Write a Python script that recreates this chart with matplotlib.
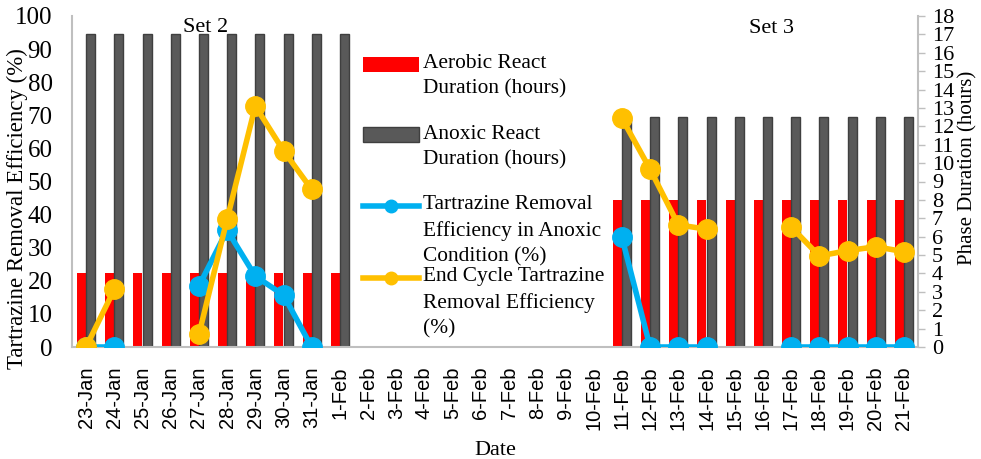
import numpy as np
import matplotlib
matplotlib.use('Agg')
import matplotlib.pyplot as plt
from matplotlib.legend_handler import HandlerPatch, HandlerLine2D
from matplotlib.lines import Line2D
from matplotlib.patches import Patch

nan = np.nan
dates = ['23-Jan', '24-Jan', '25-Jan', '26-Jan', '27-Jan', '28-Jan', '29-Jan', '30-Jan',
         '31-Jan', '1-Feb', '2-Feb', '3-Feb', '4-Feb', '5-Feb', '6-Feb', '7-Feb', '8-Feb',
         '9-Feb', '10-Feb', '11-Feb', '12-Feb', '13-Feb', '14-Feb', '15-Feb', '16-Feb',
         '17-Feb', '18-Feb', '19-Feb', '20-Feb', '21-Feb']
aerobic_hours = [4, 4, 4, 4, 4, 4, 4, 4, 4, 4,
                 nan, nan, nan, nan, nan, nan, nan, nan, nan,
                 8, 8, 8, 8, 8, 8, 8, 8, 8, 8, 8]
anoxic_hours = [17, 17, 17, 17, 17, 17, 17, 17, 17, 17,
                nan, nan, nan, nan, nan, nan, nan, nan, nan,
                12.5, 12.5, 12.5, 12.5, 12.5, 12.5, 12.5, 12.5, 12.5, 12.5, 12.5]
anoxic_tre = [0, 0, nan, nan, 18.4, 35.3, 21.4, 15.7, 0, nan,
              nan, nan, nan, nan, nan, nan, nan, nan, nan,
              33.1, 0, 0, 0, nan, nan, 0, 0, 0, 0, 0]
end_tre = [0, 17.4, nan, nan, 3.8, 38.6, 72.8, 59.3, 47.6, nan,
           nan, nan, nan, nan, nan, nan, nan, nan, nan,
           69.1, 53.7, 36.9, 35.6, nan, nan, 36.3, 27.5, 29.1, 30.3, 28.8]
set_labels = ['Set 2', 'Set 3']

RED = '#FF0000'
GRAY = '#595959'
BLUE = '#00B0F0'
ORANGE = '#FFC000'
AX = '#BFBFBF'
SERIF = 'Liberation Serif'
SANS = 'Liberation Sans'

plt.rcParams['font.family'] = SERIF

W, H = 981, 459
fig = plt.figure(figsize=(W / 100, H / 100), dpi=100)
ax = fig.add_axes([72 / W, 112 / H, (918 - 72) / W, (347 - 16) / H])
x = np.arange(len(dates))
bw = 0.32
ax.bar(x - 0.165, aerobic_hours, bw, color=RED, zorder=2)
ax.bar(x + 0.165, anoxic_hours, bw, color=GRAY, edgecolor='#3F3F3F', linewidth=1.0, zorder=2)
ax.set_ylim(0, 18)
ax.set_xlim(-0.5, len(dates) - 0.5)
ax.set_xticks(x)
ax.set_xticklabels(dates, rotation=90, fontsize=14.5, family=SANS)
ax.tick_params(axis='x', length=0, pad=14)
ax.set_xlabel('Date', fontsize=16, labelpad=8)

ax2 = ax.twinx()
# host axis (bars): right side scale
ax.set_yticks(range(0, 19))
ax.yaxis.tick_right()
ax.yaxis.set_label_position('right')
ax.tick_params(axis='y', colors=AX, labelcolor='black', labelsize=16, length=5, width=1, pad=5)
ax.set_ylabel('Phase Duration (hours)', fontsize=15, rotation=90)
ax.yaxis.set_label_coords(1.0473, 0.542)
for s in ['top', 'left']:
    ax.spines[s].set_visible(False)
ax.spines['right'].set_color(AX)
ax.spines['right'].set_linewidth(1.5)
ax.spines['bottom'].set_color(AX)
ax.spines['bottom'].set_linewidth(1.5)

# twin axis (lines): left side scale
ax2.set_ylim(0, 100)
ax2.set_yticks(range(0, 101, 10))
ax2.yaxis.tick_left()
ax2.yaxis.set_label_position('left')
ax2.tick_params(axis='y', length=0, labelsize=18, pad=14)
ax2.set_ylabel('Tartrazine Removal Efficiency (%)', fontsize=16.5)
ax2.yaxis.set_label_coords(-0.052, 0.418)
for s in ['top', 'right', 'bottom']:
    ax2.spines[s].set_visible(False)
ax2.spines['left'].set_color(AX)
ax2.spines['left'].set_linewidth(1.5)

ax2.plot(x, anoxic_tre, color=BLUE, lw=4, marker='o', ms=14, zorder=3)
ax2.plot(x, end_tre, color=ORANGE, lw=4, marker='o', ms=14, zorder=4)

ax2.text(4.22, 96.6, set_labels[0], fontsize=16, ha='center', va='center')
ax2.text(24.3, 96.3, set_labels[1], fontsize=16, ha='center', va='center')

DY = 17.6


class ShiftPatch(HandlerPatch):
    def create_artists(self, legend, orig_handle, xdescent, ydescent, width, height, fontsize, trans):
        return super().create_artists(legend, orig_handle, xdescent, ydescent - DY, width, height, fontsize, trans)


class ShiftLine(HandlerLine2D):
    def create_artists(self, legend, orig_handle, xdescent, ydescent, width, height, fontsize, trans):
        return super().create_artists(legend, orig_handle, xdescent, ydescent - 2 * DY, width, height, fontsize, trans)


h1 = Patch(facecolor=RED)
h2 = Patch(facecolor=GRAY, edgecolor='#3F3F3F', linewidth=1.0)
h3 = Line2D([], [], color=BLUE, lw=4, marker='o', ms=9)
h4 = Line2D([], [], color=ORANGE, lw=4, marker='o', ms=9)
labels = ['Aerobic React\nDuration (hours)\n',
          'Anoxic React\nDuration (hours)\n',
          'Tartrazine Removal\nEfficiency in Anoxic\nCondition (%)',
          'End Cycle Tartrazine\nRemoval Efficiency\n(%)']
leg = ax2.legend([h1, h2, h3, h4], labels, loc='upper left',
                 bbox_to_anchor=(363 / W, 1 - 54 / H), bbox_transform=fig.transFigure,
                 frameon=False, fontsize=15.4, labelspacing=0.0, handlelength=2.6,
                 handletextpad=0.2, borderpad=0, borderaxespad=0,
                 handler_map={Patch: ShiftPatch(), Line2D: ShiftLine(numpoints=1)})
for t in leg.get_texts():
    t.set_linespacing(1.47)

fig.savefig('out.png', dpi=100)
